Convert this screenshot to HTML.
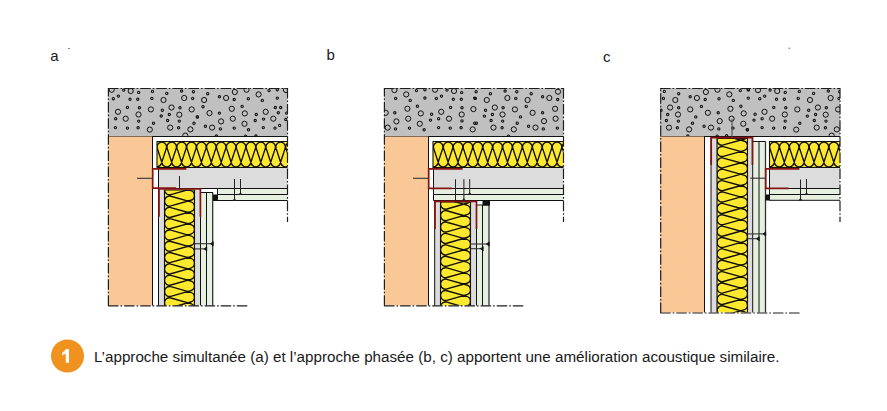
<!DOCTYPE html>
<html><head><meta charset="utf-8"><style>
html,body{margin:0;padding:0;background:#fff;width:887px;height:411px;overflow:hidden}
.lbl{position:absolute;font-family:"Liberation Sans",sans-serif;font-size:15px;color:#1a1a1a;line-height:1}
.cap{position:absolute;left:94px;top:348.8px;font-family:"Liberation Sans",sans-serif;font-size:15.2px;color:#1a1a1a;white-space:nowrap;line-height:1}

svg{position:absolute;left:0;top:0}
</style></head><body>
<svg width="887" height="411" viewBox="0 0 887 411" shape-rendering="auto">
<clipPath id="c1"><rect x="108" y="88" width="179.5" height="48.5"/></clipPath>
<rect x="108.00" y="88.00" width="179.50" height="48.50" fill="#c0c0c0"/>
<g clip-path="url(#c1)" fill="none" stroke="#111">
<circle cx="111.7" cy="89.7" r="2.6" stroke-width="1.0"/>
<circle cx="130.7" cy="91" r="2.6" stroke-width="1.0"/>
<circle cx="163.5" cy="100" r="2.6" stroke-width="1.0"/>
<circle cx="184.2" cy="98" r="2.6" stroke-width="1.0"/>
<circle cx="118" cy="111.8" r="2.6" stroke-width="1.0"/>
<circle cx="150.9" cy="109.4" r="2.6" stroke-width="1.0"/>
<circle cx="171.5" cy="107.5" r="2.6" stroke-width="1.0"/>
<circle cx="191.7" cy="109.4" r="2.6" stroke-width="1.0"/>
<circle cx="125.7" cy="118.7" r="2.6" stroke-width="1.0"/>
<circle cx="138.5" cy="114.5" r="2.6" stroke-width="1.0"/>
<circle cx="179.3" cy="114.7" r="2.6" stroke-width="1.0"/>
<circle cx="149.8" cy="129.6" r="2.6" stroke-width="1.0"/>
<circle cx="170.2" cy="127.6" r="2.6" stroke-width="1.0"/>
<circle cx="190.4" cy="129.4" r="2.6" stroke-width="1.0"/>
<circle cx="185.3" cy="135.6" r="2.6" stroke-width="1.0"/>
<circle cx="234.8" cy="92" r="2.6" stroke-width="1.0"/>
<circle cx="246.5" cy="89.7" r="2.6" stroke-width="1.0"/>
<circle cx="258.6" cy="94.4" r="2.6" stroke-width="1.0"/>
<circle cx="204.1" cy="100" r="2.6" stroke-width="1.0"/>
<circle cx="226.1" cy="98" r="2.6" stroke-width="1.0"/>
<circle cx="231.8" cy="108.8" r="2.6" stroke-width="1.0"/>
<circle cx="209.5" cy="113.1" r="2.6" stroke-width="1.0"/>
<circle cx="244.8" cy="113.4" r="2.6" stroke-width="1.0"/>
<circle cx="265.7" cy="111.8" r="2.6" stroke-width="1.0"/>
<circle cx="221.1" cy="121.4" r="2.6" stroke-width="1.0"/>
<circle cx="232.8" cy="118.7" r="2.6" stroke-width="1.0"/>
<circle cx="273.3" cy="118.7" r="2.6" stroke-width="1.0"/>
<circle cx="244.5" cy="123.8" r="2.6" stroke-width="1.0"/>
<circle cx="212.1" cy="127.6" r="2.6" stroke-width="1.0"/>
<circle cx="286" cy="90" r="2.6" stroke-width="1.0"/>
<circle cx="123.7" cy="90.1" r="1.15" stroke-width="1.1"/>
<circle cx="138.7" cy="92.4" r="1.15" stroke-width="1.1"/>
<circle cx="152.5" cy="91.4" r="1.15" stroke-width="1.1"/>
<circle cx="166.8" cy="93.4" r="1.15" stroke-width="1.1"/>
<circle cx="181.6" cy="91" r="1.15" stroke-width="1.1"/>
<circle cx="193.4" cy="91.7" r="1.15" stroke-width="1.1"/>
<circle cx="113.3" cy="98.7" r="1.15" stroke-width="1.1"/>
<circle cx="118.4" cy="96.1" r="1.15" stroke-width="1.1"/>
<circle cx="130" cy="99.3" r="1.15" stroke-width="1.1"/>
<circle cx="137.8" cy="99.3" r="1.15" stroke-width="1.1"/>
<circle cx="151.9" cy="98.4" r="1.15" stroke-width="1.1"/>
<circle cx="192.7" cy="98.4" r="1.15" stroke-width="1.1"/>
<circle cx="127.4" cy="107.4" r="1.15" stroke-width="1.1"/>
<circle cx="139.4" cy="107.8" r="1.15" stroke-width="1.1"/>
<circle cx="162.3" cy="110.2" r="1.15" stroke-width="1.1"/>
<circle cx="180" cy="107.8" r="1.15" stroke-width="1.1"/>
<circle cx="115.7" cy="118.7" r="1.15" stroke-width="1.1"/>
<circle cx="161.2" cy="116" r="1.15" stroke-width="1.1"/>
<circle cx="169.3" cy="114.5" r="1.15" stroke-width="1.1"/>
<circle cx="197.4" cy="116.9" r="1.15" stroke-width="1.1"/>
<circle cx="138.7" cy="121.1" r="1.15" stroke-width="1.1"/>
<circle cx="153.5" cy="123.2" r="1.15" stroke-width="1.1"/>
<circle cx="167.6" cy="120.5" r="1.15" stroke-width="1.1"/>
<circle cx="179.3" cy="121.1" r="1.15" stroke-width="1.1"/>
<circle cx="194" cy="123.2" r="1.15" stroke-width="1.1"/>
<circle cx="115.4" cy="127.6" r="1.15" stroke-width="1.1"/>
<circle cx="127.4" cy="128.1" r="1.15" stroke-width="1.1"/>
<circle cx="138.1" cy="127.8" r="1.15" stroke-width="1.1"/>
<circle cx="178.6" cy="127.8" r="1.15" stroke-width="1.1"/>
<circle cx="207.7" cy="93.7" r="1.15" stroke-width="1.1"/>
<circle cx="219.4" cy="96.8" r="1.15" stroke-width="1.1"/>
<circle cx="234.2" cy="99.5" r="1.15" stroke-width="1.1"/>
<circle cx="248.3" cy="98.7" r="1.15" stroke-width="1.1"/>
<circle cx="262.3" cy="100.4" r="1.15" stroke-width="1.1"/>
<circle cx="277.3" cy="98.1" r="1.15" stroke-width="1.1"/>
<circle cx="269" cy="90.6" r="1.15" stroke-width="1.1"/>
<circle cx="277.3" cy="89.7" r="1.15" stroke-width="1.1"/>
<circle cx="203" cy="106.7" r="1.15" stroke-width="1.1"/>
<circle cx="242.1" cy="106.4" r="1.15" stroke-width="1.1"/>
<circle cx="275.3" cy="107.5" r="1.15" stroke-width="1.1"/>
<circle cx="280.7" cy="107.5" r="1.15" stroke-width="1.1"/>
<circle cx="219.4" cy="113.1" r="1.15" stroke-width="1.1"/>
<circle cx="256.3" cy="114.5" r="1.15" stroke-width="1.1"/>
<circle cx="278.3" cy="112.8" r="1.15" stroke-width="1.1"/>
<circle cx="197.4" cy="116.9" r="1.15" stroke-width="1.1"/>
<circle cx="255.2" cy="120.5" r="1.15" stroke-width="1.1"/>
<circle cx="263.5" cy="119.1" r="1.15" stroke-width="1.1"/>
<circle cx="285.8" cy="119.5" r="1.15" stroke-width="1.1"/>
<circle cx="205.4" cy="126.2" r="1.15" stroke-width="1.1"/>
<circle cx="220.4" cy="128.9" r="1.15" stroke-width="1.1"/>
<circle cx="234.2" cy="128.1" r="1.15" stroke-width="1.1"/>
<circle cx="248.5" cy="129.8" r="1.15" stroke-width="1.1"/>
<circle cx="263.3" cy="127.6" r="1.15" stroke-width="1.1"/>
<circle cx="275" cy="128.1" r="1.15" stroke-width="1.1"/>
<circle cx="279.6" cy="125.4" r="1.15" stroke-width="1.1"/>
<circle cx="286.7" cy="113.1" r="1.15" stroke-width="1.1"/>
<circle cx="216.4" cy="136" r="1.15" stroke-width="1.1"/>
<circle cx="245.6" cy="136.2" r="1.15" stroke-width="1.1"/>
<circle cx="255.9" cy="136" r="1.15" stroke-width="1.1"/>
</g>
<line x1="108.00" y1="136.50" x2="287.50" y2="136.50" stroke="#111" stroke-width="1" />
<rect x="108.00" y="136.50" width="44.50" height="169.00" fill="#fac896"/>
<line x1="152.50" y1="136.50" x2="152.50" y2="305.50" stroke="#111" stroke-width="1" />
<clipPath id="c2"><rect x="157.0" y="141.5" width="130.5" height="26.0"/></clipPath>
<rect x="157.00" y="141.50" width="130.50" height="26.00" fill="#ffe92e"/>
<g clip-path="url(#c2)">
<path d="M137.48,148.37A4.75,4.75 0 1 1 146.52,148.37M137.48,148.37L142.43,163.57M146.52,148.37L141.57,163.57M142.43,163.57A4.75,4.75 0 0 0 151.47,163.57M147.38,148.37A4.75,4.75 0 1 1 156.42,148.37M147.38,148.37L152.33,163.57M156.42,148.37L151.47,163.57M152.33,163.57A4.75,4.75 0 0 0 161.37,163.57M157.28,148.37A4.75,4.75 0 1 1 166.32,148.37M157.28,148.37L162.23,163.57M166.32,148.37L161.37,163.57M162.23,163.57A4.75,4.75 0 0 0 171.27,163.57M167.18,148.37A4.75,4.75 0 1 1 176.22,148.37M167.18,148.37L172.13,163.57M176.22,148.37L171.27,163.57M172.13,163.57A4.75,4.75 0 0 0 181.17,163.57M177.08,148.37A4.75,4.75 0 1 1 186.12,148.37M177.08,148.37L182.03,163.57M186.12,148.37L181.17,163.57M182.03,163.57A4.75,4.75 0 0 0 191.07,163.57M186.98,148.37A4.75,4.75 0 1 1 196.02,148.37M186.98,148.37L191.93,163.57M196.02,148.37L191.07,163.57M191.93,163.57A4.75,4.75 0 0 0 200.97,163.57M196.88,148.37A4.75,4.75 0 1 1 205.92,148.37M196.88,148.37L201.83,163.57M205.92,148.37L200.97,163.57M201.83,163.57A4.75,4.75 0 0 0 210.87,163.57M206.78,148.37A4.75,4.75 0 1 1 215.82,148.37M206.78,148.37L211.73,163.57M215.82,148.37L210.87,163.57M211.73,163.57A4.75,4.75 0 0 0 220.77,163.57M216.68,148.37A4.75,4.75 0 1 1 225.72,148.37M216.68,148.37L221.63,163.57M225.72,148.37L220.77,163.57M221.63,163.57A4.75,4.75 0 0 0 230.67,163.57M226.58,148.37A4.75,4.75 0 1 1 235.62,148.37M226.58,148.37L231.53,163.57M235.62,148.37L230.67,163.57M231.53,163.57A4.75,4.75 0 0 0 240.57,163.57M236.48,148.37A4.75,4.75 0 1 1 245.52,148.37M236.48,148.37L241.43,163.57M245.52,148.37L240.57,163.57M241.43,163.57A4.75,4.75 0 0 0 250.47,163.57M246.38,148.37A4.75,4.75 0 1 1 255.42,148.37M246.38,148.37L251.33,163.57M255.42,148.37L250.47,163.57M251.33,163.57A4.75,4.75 0 0 0 260.37,163.57M256.28,148.37A4.75,4.75 0 1 1 265.32,148.37M256.28,148.37L261.23,163.57M265.32,148.37L260.37,163.57M261.23,163.57A4.75,4.75 0 0 0 270.27,163.57M266.18,148.37A4.75,4.75 0 1 1 275.22,148.37M266.18,148.37L271.13,163.57M275.22,148.37L270.27,163.57M271.13,163.57A4.75,4.75 0 0 0 280.17,163.57M276.08,148.37A4.75,4.75 0 1 1 285.12,148.37M276.08,148.37L281.03,163.57M285.12,148.37L280.17,163.57M281.03,163.57A4.75,4.75 0 0 0 290.07,163.57M285.98,148.37A4.75,4.75 0 1 1 295.02,148.37M285.98,148.37L290.93,163.57M295.02,148.37L290.07,163.57M290.93,163.57A4.75,4.75 0 0 0 299.97,163.57" stroke="#111" stroke-width="1.4" fill="none" />
</g>
<path d="M287.5,141.5H157.0V167.5H287.5" stroke="#111" stroke-width="1.1" fill="none" />
<rect x="158.50" y="168.00" width="129.00" height="20.50" fill="#dcdcdc"/>
<line x1="158.50" y1="168.00" x2="158.50" y2="188.50" stroke="#111" stroke-width="1" />
<rect x="217.50" y="188.50" width="70.00" height="12.00" fill="#e6f0e1"/>
<line x1="158.50" y1="188.50" x2="287.50" y2="188.50" stroke="#111" stroke-width="1" />
<line x1="217.50" y1="194.50" x2="287.50" y2="194.50" stroke="#111" stroke-width="1" />
<line x1="213.00" y1="200.50" x2="287.50" y2="200.50" stroke="#111" stroke-width="1" />
<line x1="217.50" y1="188.50" x2="217.50" y2="200.50" stroke="#111" stroke-width="1" />
<rect x="213.00" y="194.50" width="4.50" height="6.50" fill="#111"/>
<rect x="158.50" y="189.50" width="6.00" height="116.00" fill="#dcdcdc"/>
<rect x="194.50" y="189.50" width="6.00" height="116.00" fill="#dcdcdc"/>
<line x1="158.50" y1="188.50" x2="158.50" y2="305.50" stroke="#111" stroke-width="1" />
<clipPath id="c3"><rect x="164.5" y="190.0" width="30.0" height="115.5"/></clipPath>
<rect x="164.50" y="190.00" width="30.00" height="115.50" fill="#ffe92e"/>
<g clip-path="url(#c3)">
<path d="M170.86,162.39A5.0,5.0 0 1 0 170.86,172.01M170.86,162.39L190.86,168.04M170.86,172.01L190.86,166.36M190.86,168.04A5.0,5.0 0 0 1 190.86,177.66M170.86,173.69A5.0,5.0 0 1 0 170.86,183.31M170.86,173.69L190.86,179.34M170.86,183.31L190.86,177.66M190.86,179.34A5.0,5.0 0 0 1 190.86,188.96M170.86,184.99A5.0,5.0 0 1 0 170.86,194.61M170.86,184.99L190.86,190.64M170.86,194.61L190.86,188.96M190.86,190.64A5.0,5.0 0 0 1 190.86,200.26M170.86,196.29A5.0,5.0 0 1 0 170.86,205.91M170.86,196.29L190.86,201.94M170.86,205.91L190.86,200.26M190.86,201.94A5.0,5.0 0 0 1 190.86,211.56M170.86,207.59A5.0,5.0 0 1 0 170.86,217.21M170.86,207.59L190.86,213.24M170.86,217.21L190.86,211.56M190.86,213.24A5.0,5.0 0 0 1 190.86,222.86M170.86,218.89A5.0,5.0 0 1 0 170.86,228.51M170.86,218.89L190.86,224.54M170.86,228.51L190.86,222.86M190.86,224.54A5.0,5.0 0 0 1 190.86,234.16M170.86,230.19A5.0,5.0 0 1 0 170.86,239.81M170.86,230.19L190.86,235.84M170.86,239.81L190.86,234.16M190.86,235.84A5.0,5.0 0 0 1 190.86,245.46M170.86,241.49A5.0,5.0 0 1 0 170.86,251.11M170.86,241.49L190.86,247.14M170.86,251.11L190.86,245.46M190.86,247.14A5.0,5.0 0 0 1 190.86,256.76M170.86,252.79A5.0,5.0 0 1 0 170.86,262.41M170.86,252.79L190.86,258.44M170.86,262.41L190.86,256.76M190.86,258.44A5.0,5.0 0 0 1 190.86,268.06M170.86,264.09A5.0,5.0 0 1 0 170.86,273.71M170.86,264.09L190.86,269.74M170.86,273.71L190.86,268.06M190.86,269.74A5.0,5.0 0 0 1 190.86,279.36M170.86,275.39A5.0,5.0 0 1 0 170.86,285.01M170.86,275.39L190.86,281.04M170.86,285.01L190.86,279.36M190.86,281.04A5.0,5.0 0 0 1 190.86,290.66M170.86,286.69A5.0,5.0 0 1 0 170.86,296.31M170.86,286.69L190.86,292.34M170.86,296.31L190.86,290.66M190.86,292.34A5.0,5.0 0 0 1 190.86,301.96M170.86,297.99A5.0,5.0 0 1 0 170.86,307.61M170.86,297.99L190.86,303.64M170.86,307.61L190.86,301.96M190.86,303.64A5.0,5.0 0 0 1 190.86,313.26M170.86,309.29A5.0,5.0 0 1 0 170.86,318.91M170.86,309.29L190.86,314.94M170.86,318.91L190.86,313.26M190.86,314.94A5.0,5.0 0 0 1 190.86,324.56" stroke="#111" stroke-width="1.4" fill="none" />
</g>
<path d="M164.5,305.5V190.0H194.5V305.5" stroke="#111" stroke-width="1.1" fill="none" />
<rect x="200.50" y="192.50" width="12.20" height="113.00" fill="#e6f0e1"/>
<line x1="200.50" y1="189.00" x2="200.50" y2="305.50" stroke="#111" stroke-width="1" />
<line x1="206.50" y1="192.50" x2="206.50" y2="305.50" stroke="#111" stroke-width="1" />
<line x1="212.70" y1="192.50" x2="212.70" y2="305.50" stroke="#333" stroke-width="1.3" />
<line x1="200.50" y1="192.50" x2="213.00" y2="192.50" stroke="#111" stroke-width="1" />
<path d="M186.4,168.8H152.7V188.2H176" stroke="#861313" stroke-width="1.7" fill="none" />
<path d="M159,216.8V189H200.4V216.8" stroke="#861313" stroke-width="1.7" fill="none" />
<line x1="137.00" y1="178.30" x2="152.50" y2="178.30" stroke="#333" stroke-width="1.1" />
<line x1="179.50" y1="176.00" x2="179.50" y2="188.50" stroke="#222" stroke-width="1" />
<line x1="234.50" y1="179.00" x2="234.50" y2="200.50" stroke="#222" stroke-width="1" />
<path d="M232.90,200.50L236.10,200.50L234.50,198.50Z" stroke="#222" stroke-width="0.5" fill="#222" />
<line x1="240.50" y1="179.00" x2="240.50" y2="194.50" stroke="#222" stroke-width="1" />
<path d="M238.90,194.50L242.10,194.50L240.50,192.50Z" stroke="#222" stroke-width="0.5" fill="#222" />
<line x1="194.50" y1="243.70" x2="213.00" y2="243.70" stroke="#333" stroke-width="1.1" />
<path d="M213.30,241.50L213.30,245.90L210.40,243.70Z" stroke="#111" stroke-width="0.6" fill="#111" />
<line x1="194.50" y1="248.90" x2="206.50" y2="248.90" stroke="#333" stroke-width="1.1" />
<path d="M206.80,246.70L206.80,251.10L203.90,248.90Z" stroke="#111" stroke-width="0.6" fill="#111" />
<line x1="108.00" y1="88.50" x2="287.50" y2="88.50" stroke="#1e1e1e" stroke-width="1.2" stroke-dasharray="10.5 2 1.6 2"/>
<line x1="108.40" y1="305.80" x2="108.40" y2="88.00" stroke="#1e1e1e" stroke-width="1.2" stroke-dasharray="10.5 2 1.6 2"/>
<line x1="287.50" y1="88.00" x2="287.50" y2="222.00" stroke="#1e1e1e" stroke-width="1.2" stroke-dasharray="10.5 2 1.6 2"/>
<line x1="108.00" y1="305.80" x2="248.00" y2="305.80" stroke="#1e1e1e" stroke-width="1.2" stroke-dasharray="10.5 2 1.6 2"/>
<clipPath id="c4"><rect x="384" y="88" width="179.5" height="48.5"/></clipPath>
<rect x="384.00" y="88.00" width="179.50" height="48.50" fill="#c0c0c0"/>
<g clip-path="url(#c4)" fill="none" stroke="#111">
<circle cx="394.4" cy="90.1" r="2.6" stroke-width="1.0"/>
<circle cx="406.2" cy="94.4" r="2.6" stroke-width="1.0"/>
<circle cx="435" cy="89.7" r="2.6" stroke-width="1.0"/>
<circle cx="454" cy="91" r="2.6" stroke-width="1.0"/>
<circle cx="407.4" cy="108.7" r="2.6" stroke-width="1.0"/>
<circle cx="420.8" cy="113.4" r="2.6" stroke-width="1.0"/>
<circle cx="441.2" cy="111.8" r="2.6" stroke-width="1.0"/>
<circle cx="461.7" cy="114.5" r="2.6" stroke-width="1.0"/>
<circle cx="473.4" cy="109.1" r="2.6" stroke-width="1.0"/>
<circle cx="385.7" cy="112.8" r="2.6" stroke-width="1.0"/>
<circle cx="396.4" cy="121.4" r="2.6" stroke-width="1.0"/>
<circle cx="408.2" cy="118.7" r="2.6" stroke-width="1.0"/>
<circle cx="449" cy="118.7" r="2.6" stroke-width="1.0"/>
<circle cx="419.8" cy="123.8" r="2.6" stroke-width="1.0"/>
<circle cx="387.7" cy="127.6" r="2.6" stroke-width="1.0"/>
<circle cx="472.7" cy="129.4" r="2.6" stroke-width="1.0"/>
<circle cx="558" cy="91.7" r="2.6" stroke-width="1.0"/>
<circle cx="486.8" cy="100" r="2.6" stroke-width="1.0"/>
<circle cx="507.4" cy="98" r="2.6" stroke-width="1.0"/>
<circle cx="527.6" cy="100" r="2.6" stroke-width="1.0"/>
<circle cx="549.3" cy="98" r="2.6" stroke-width="1.0"/>
<circle cx="494.8" cy="107.5" r="2.6" stroke-width="1.0"/>
<circle cx="514.9" cy="109.4" r="2.6" stroke-width="1.0"/>
<circle cx="555.1" cy="108.8" r="2.6" stroke-width="1.0"/>
<circle cx="502.5" cy="114.5" r="2.6" stroke-width="1.0"/>
<circle cx="532.6" cy="112.8" r="2.6" stroke-width="1.0"/>
<circle cx="544" cy="121.1" r="2.6" stroke-width="1.0"/>
<circle cx="555.6" cy="118.7" r="2.6" stroke-width="1.0"/>
<circle cx="493.5" cy="127.6" r="2.6" stroke-width="1.0"/>
<circle cx="513.8" cy="129.4" r="2.6" stroke-width="1.0"/>
<circle cx="535.5" cy="127.6" r="2.6" stroke-width="1.0"/>
<circle cx="416.5" cy="90.6" r="1.15" stroke-width="1.1"/>
<circle cx="424.9" cy="89.7" r="1.15" stroke-width="1.1"/>
<circle cx="447" cy="90.1" r="1.15" stroke-width="1.1"/>
<circle cx="461.7" cy="92.6" r="1.15" stroke-width="1.1"/>
<circle cx="395.7" cy="98.4" r="1.15" stroke-width="1.1"/>
<circle cx="410.2" cy="100.4" r="1.15" stroke-width="1.1"/>
<circle cx="424.9" cy="98" r="1.15" stroke-width="1.1"/>
<circle cx="436.3" cy="98.4" r="1.15" stroke-width="1.1"/>
<circle cx="441.5" cy="96.1" r="1.15" stroke-width="1.1"/>
<circle cx="453.3" cy="99.3" r="1.15" stroke-width="1.1"/>
<circle cx="461.3" cy="99.3" r="1.15" stroke-width="1.1"/>
<circle cx="474.7" cy="98.1" r="1.15" stroke-width="1.1"/>
<circle cx="417.4" cy="106.2" r="1.15" stroke-width="1.1"/>
<circle cx="450.6" cy="107.4" r="1.15" stroke-width="1.1"/>
<circle cx="462" cy="107.8" r="1.15" stroke-width="1.1"/>
<circle cx="394.8" cy="112.8" r="1.15" stroke-width="1.1"/>
<circle cx="431.6" cy="114.2" r="1.15" stroke-width="1.1"/>
<circle cx="430.5" cy="120.1" r="1.15" stroke-width="1.1"/>
<circle cx="438.6" cy="118.7" r="1.15" stroke-width="1.1"/>
<circle cx="462" cy="120.9" r="1.15" stroke-width="1.1"/>
<circle cx="395.5" cy="128.9" r="1.15" stroke-width="1.1"/>
<circle cx="409.5" cy="128.1" r="1.15" stroke-width="1.1"/>
<circle cx="424.1" cy="129.8" r="1.15" stroke-width="1.1"/>
<circle cx="438.6" cy="127.6" r="1.15" stroke-width="1.1"/>
<circle cx="450.2" cy="128.1" r="1.15" stroke-width="1.1"/>
<circle cx="461.1" cy="127.8" r="1.15" stroke-width="1.1"/>
<circle cx="474.7" cy="123.2" r="1.15" stroke-width="1.1"/>
<circle cx="476.1" cy="91.7" r="1.15" stroke-width="1.1"/>
<circle cx="490.4" cy="93.7" r="1.15" stroke-width="1.1"/>
<circle cx="505.1" cy="91" r="1.15" stroke-width="1.1"/>
<circle cx="516.8" cy="91.7" r="1.15" stroke-width="1.1"/>
<circle cx="531.2" cy="93.7" r="1.15" stroke-width="1.1"/>
<circle cx="475.3" cy="98.4" r="1.15" stroke-width="1.1"/>
<circle cx="515.8" cy="98.4" r="1.15" stroke-width="1.1"/>
<circle cx="542.6" cy="96.8" r="1.15" stroke-width="1.1"/>
<circle cx="557.7" cy="99.5" r="1.15" stroke-width="1.1"/>
<circle cx="485.5" cy="110.2" r="1.15" stroke-width="1.1"/>
<circle cx="503.1" cy="107.8" r="1.15" stroke-width="1.1"/>
<circle cx="526.2" cy="106.4" r="1.15" stroke-width="1.1"/>
<circle cx="484.4" cy="116.1" r="1.15" stroke-width="1.1"/>
<circle cx="492.4" cy="114.5" r="1.15" stroke-width="1.1"/>
<circle cx="520.5" cy="116.9" r="1.15" stroke-width="1.1"/>
<circle cx="542.6" cy="112.8" r="1.15" stroke-width="1.1"/>
<circle cx="491.1" cy="120.5" r="1.15" stroke-width="1.1"/>
<circle cx="502.7" cy="121.1" r="1.15" stroke-width="1.1"/>
<circle cx="476.4" cy="123.2" r="1.15" stroke-width="1.1"/>
<circle cx="517.2" cy="123.2" r="1.15" stroke-width="1.1"/>
<circle cx="502.1" cy="127.8" r="1.15" stroke-width="1.1"/>
<circle cx="528.6" cy="126.2" r="1.15" stroke-width="1.1"/>
<circle cx="543.3" cy="128.9" r="1.15" stroke-width="1.1"/>
<circle cx="557.3" cy="128.1" r="1.15" stroke-width="1.1"/>
<circle cx="508.5" cy="136.2" r="1.15" stroke-width="1.1"/>
</g>
<line x1="384.00" y1="136.50" x2="563.50" y2="136.50" stroke="#111" stroke-width="1" />
<rect x="384.00" y="136.50" width="44.50" height="169.00" fill="#fac896"/>
<line x1="428.50" y1="136.50" x2="428.50" y2="305.50" stroke="#111" stroke-width="1" />
<clipPath id="c5"><rect x="433.0" y="141.5" width="130.5" height="26.0"/></clipPath>
<rect x="433.00" y="141.50" width="130.50" height="26.00" fill="#ffe92e"/>
<g clip-path="url(#c5)">
<path d="M413.88,148.37A4.75,4.75 0 1 1 422.92,148.37M413.88,148.37L418.83,163.57M422.92,148.37L417.97,163.57M418.83,163.57A4.75,4.75 0 0 0 427.87,163.57M423.78,148.37A4.75,4.75 0 1 1 432.82,148.37M423.78,148.37L428.73,163.57M432.82,148.37L427.87,163.57M428.73,163.57A4.75,4.75 0 0 0 437.77,163.57M433.68,148.37A4.75,4.75 0 1 1 442.72,148.37M433.68,148.37L438.63,163.57M442.72,148.37L437.77,163.57M438.63,163.57A4.75,4.75 0 0 0 447.67,163.57M443.58,148.37A4.75,4.75 0 1 1 452.62,148.37M443.58,148.37L448.53,163.57M452.62,148.37L447.67,163.57M448.53,163.57A4.75,4.75 0 0 0 457.57,163.57M453.48,148.37A4.75,4.75 0 1 1 462.52,148.37M453.48,148.37L458.43,163.57M462.52,148.37L457.57,163.57M458.43,163.57A4.75,4.75 0 0 0 467.47,163.57M463.38,148.37A4.75,4.75 0 1 1 472.42,148.37M463.38,148.37L468.33,163.57M472.42,148.37L467.47,163.57M468.33,163.57A4.75,4.75 0 0 0 477.37,163.57M473.28,148.37A4.75,4.75 0 1 1 482.32,148.37M473.28,148.37L478.23,163.57M482.32,148.37L477.37,163.57M478.23,163.57A4.75,4.75 0 0 0 487.27,163.57M483.18,148.37A4.75,4.75 0 1 1 492.22,148.37M483.18,148.37L488.13,163.57M492.22,148.37L487.27,163.57M488.13,163.57A4.75,4.75 0 0 0 497.17,163.57M493.08,148.37A4.75,4.75 0 1 1 502.12,148.37M493.08,148.37L498.03,163.57M502.12,148.37L497.17,163.57M498.03,163.57A4.75,4.75 0 0 0 507.07,163.57M502.98,148.37A4.75,4.75 0 1 1 512.02,148.37M502.98,148.37L507.93,163.57M512.02,148.37L507.07,163.57M507.93,163.57A4.75,4.75 0 0 0 516.97,163.57M512.88,148.37A4.75,4.75 0 1 1 521.92,148.37M512.88,148.37L517.83,163.57M521.92,148.37L516.97,163.57M517.83,163.57A4.75,4.75 0 0 0 526.87,163.57M522.78,148.37A4.75,4.75 0 1 1 531.82,148.37M522.78,148.37L527.73,163.57M531.82,148.37L526.87,163.57M527.73,163.57A4.75,4.75 0 0 0 536.77,163.57M532.68,148.37A4.75,4.75 0 1 1 541.72,148.37M532.68,148.37L537.63,163.57M541.72,148.37L536.77,163.57M537.63,163.57A4.75,4.75 0 0 0 546.67,163.57M542.58,148.37A4.75,4.75 0 1 1 551.62,148.37M542.58,148.37L547.53,163.57M551.62,148.37L546.67,163.57M547.53,163.57A4.75,4.75 0 0 0 556.57,163.57M552.48,148.37A4.75,4.75 0 1 1 561.52,148.37M552.48,148.37L557.43,163.57M561.52,148.37L556.57,163.57M557.43,163.57A4.75,4.75 0 0 0 566.47,163.57M562.38,148.37A4.75,4.75 0 1 1 571.42,148.37M562.38,148.37L567.33,163.57M571.42,148.37L566.47,163.57M567.33,163.57A4.75,4.75 0 0 0 576.37,163.57" stroke="#111" stroke-width="1.4" fill="none" />
</g>
<path d="M563.5,141.5H433.0V167.5H563.5" stroke="#111" stroke-width="1.1" fill="none" />
<rect x="433.50" y="168.00" width="130.00" height="20.50" fill="#dcdcdc"/>
<rect x="433.50" y="188.50" width="130.00" height="12.00" fill="#e6f0e1"/>
<line x1="433.50" y1="168.00" x2="433.50" y2="200.50" stroke="#111" stroke-width="1" />
<line x1="433.50" y1="188.50" x2="563.50" y2="188.50" stroke="#111" stroke-width="1" />
<line x1="433.50" y1="194.50" x2="563.50" y2="194.50" stroke="#111" stroke-width="1" />
<line x1="433.50" y1="200.50" x2="563.50" y2="200.50" stroke="#111" stroke-width="1" />
<rect x="434.50" y="201.50" width="6.00" height="104.00" fill="#dcdcdc"/>
<rect x="470.50" y="201.50" width="6.00" height="104.00" fill="#dcdcdc"/>
<line x1="434.70" y1="200.50" x2="434.70" y2="305.50" stroke="#111" stroke-width="1" />
<clipPath id="c6"><rect x="440.5" y="202.0" width="30.0" height="103.5"/></clipPath>
<rect x="440.50" y="202.00" width="30.00" height="103.50" fill="#ffe92e"/>
<g clip-path="url(#c6)">
<path d="M446.87,176.53A5.0,5.0 0 1 0 446.87,186.15M446.87,176.53L466.87,182.24M446.87,186.15L466.87,180.44M466.87,182.24A5.0,5.0 0 0 1 466.87,191.86M446.87,187.95A5.0,5.0 0 1 0 446.87,197.57M446.87,187.95L466.87,193.66M446.87,197.57L466.87,191.86M466.87,193.66A5.0,5.0 0 0 1 466.87,203.28M446.87,199.37A5.0,5.0 0 1 0 446.87,208.99M446.87,199.37L466.87,205.08M446.87,208.99L466.87,203.28M466.87,205.08A5.0,5.0 0 0 1 466.87,214.70M446.87,210.79A5.0,5.0 0 1 0 446.87,220.41M446.87,210.79L466.87,216.50M446.87,220.41L466.87,214.70M466.87,216.50A5.0,5.0 0 0 1 466.87,226.12M446.87,222.21A5.0,5.0 0 1 0 446.87,231.83M446.87,222.21L466.87,227.92M446.87,231.83L466.87,226.12M466.87,227.92A5.0,5.0 0 0 1 466.87,237.54M446.87,233.63A5.0,5.0 0 1 0 446.87,243.25M446.87,233.63L466.87,239.34M446.87,243.25L466.87,237.54M466.87,239.34A5.0,5.0 0 0 1 466.87,248.96M446.87,245.05A5.0,5.0 0 1 0 446.87,254.67M446.87,245.05L466.87,250.76M446.87,254.67L466.87,248.96M466.87,250.76A5.0,5.0 0 0 1 466.87,260.38M446.87,256.47A5.0,5.0 0 1 0 446.87,266.09M446.87,256.47L466.87,262.18M446.87,266.09L466.87,260.38M466.87,262.18A5.0,5.0 0 0 1 466.87,271.80M446.87,267.89A5.0,5.0 0 1 0 446.87,277.51M446.87,267.89L466.87,273.60M446.87,277.51L466.87,271.80M466.87,273.60A5.0,5.0 0 0 1 466.87,283.22M446.87,279.31A5.0,5.0 0 1 0 446.87,288.93M446.87,279.31L466.87,285.02M446.87,288.93L466.87,283.22M466.87,285.02A5.0,5.0 0 0 1 466.87,294.64M446.87,290.73A5.0,5.0 0 1 0 446.87,300.35M446.87,290.73L466.87,296.44M446.87,300.35L466.87,294.64M466.87,296.44A5.0,5.0 0 0 1 466.87,306.06M446.87,302.15A5.0,5.0 0 1 0 446.87,311.77M446.87,302.15L466.87,307.86M446.87,311.77L466.87,306.06M466.87,307.86A5.0,5.0 0 0 1 466.87,317.48" stroke="#111" stroke-width="1.4" fill="none" />
</g>
<path d="M440.5,305.5V202.0H470.5V305.5" stroke="#111" stroke-width="1.1" fill="none" />
<rect x="476.50" y="205.00" width="12.50" height="100.50" fill="#e6f0e1"/>
<line x1="476.50" y1="201.00" x2="476.50" y2="305.50" stroke="#111" stroke-width="1" />
<line x1="482.50" y1="205.00" x2="482.50" y2="305.50" stroke="#111" stroke-width="1" />
<line x1="489.00" y1="201.00" x2="489.00" y2="305.50" stroke="#333" stroke-width="1.3" />
<line x1="476.50" y1="205.00" x2="489.50" y2="205.00" stroke="#111" stroke-width="1" />
<rect x="482.50" y="201.00" width="7.50" height="4.50" fill="#111"/>
<path d="M462.6,168.8H428.7V188.3H451.7" stroke="#861313" stroke-width="1.7" fill="none" />
<path d="M435,228.9V201.4H476.5V228.9" stroke="#861313" stroke-width="1.7" fill="none" />
<line x1="413.00" y1="178.30" x2="428.50" y2="178.30" stroke="#333" stroke-width="1.1" />
<line x1="455.50" y1="179.20" x2="455.50" y2="201.40" stroke="#222" stroke-width="1" />
<line x1="463.90" y1="179.20" x2="463.90" y2="200.50" stroke="#222" stroke-width="1" />
<path d="M462.30,200.50L465.50,200.50L463.90,198.50Z" stroke="#222" stroke-width="0.5" fill="#222" />
<line x1="469.70" y1="179.20" x2="469.70" y2="194.50" stroke="#222" stroke-width="1" />
<path d="M468.10,194.50L471.30,194.50L469.70,192.50Z" stroke="#222" stroke-width="0.5" fill="#222" />
<line x1="470.50" y1="244.00" x2="489.00" y2="244.00" stroke="#333" stroke-width="1.1" />
<path d="M489.30,241.80L489.30,246.20L486.40,244.00Z" stroke="#111" stroke-width="0.6" fill="#111" />
<line x1="470.50" y1="248.70" x2="483.00" y2="248.70" stroke="#333" stroke-width="1.1" />
<path d="M483.30,246.50L483.30,250.90L480.40,248.70Z" stroke="#111" stroke-width="0.6" fill="#111" />
<line x1="384.00" y1="88.50" x2="563.50" y2="88.50" stroke="#1e1e1e" stroke-width="1.2" stroke-dasharray="10.5 2 1.6 2"/>
<line x1="384.40" y1="305.80" x2="384.40" y2="88.00" stroke="#1e1e1e" stroke-width="1.2" stroke-dasharray="10.5 2 1.6 2"/>
<line x1="563.50" y1="88.00" x2="563.50" y2="222.00" stroke="#1e1e1e" stroke-width="1.2" stroke-dasharray="10.5 2 1.6 2"/>
<line x1="384.00" y1="305.80" x2="524.60" y2="305.80" stroke="#1e1e1e" stroke-width="1.2" stroke-dasharray="10.5 2 1.6 2"/>
<clipPath id="c7"><rect x="660" y="88" width="180" height="48.5"/></clipPath>
<rect x="660.00" y="88.00" width="180.00" height="48.50" fill="#c0c0c0"/>
<g clip-path="url(#c7)" fill="none" stroke="#111">
<circle cx="705.9" cy="92" r="2.6" stroke-width="1.0"/>
<circle cx="717.5" cy="89.7" r="2.6" stroke-width="1.0"/>
<circle cx="729.3" cy="94.4" r="2.6" stroke-width="1.0"/>
<circle cx="675.3" cy="100" r="2.6" stroke-width="1.0"/>
<circle cx="696.9" cy="98" r="2.6" stroke-width="1.0"/>
<circle cx="670.1" cy="107.5" r="2.6" stroke-width="1.0"/>
<circle cx="690.2" cy="109.4" r="2.6" stroke-width="1.0"/>
<circle cx="707.9" cy="112.8" r="2.6" stroke-width="1.0"/>
<circle cx="730.4" cy="108.8" r="2.6" stroke-width="1.0"/>
<circle cx="743.7" cy="113.4" r="2.6" stroke-width="1.0"/>
<circle cx="678" cy="114.5" r="2.6" stroke-width="1.0"/>
<circle cx="719.7" cy="121.1" r="2.6" stroke-width="1.0"/>
<circle cx="731.6" cy="118.7" r="2.6" stroke-width="1.0"/>
<circle cx="743.3" cy="123.8" r="2.6" stroke-width="1.0"/>
<circle cx="669" cy="127.6" r="2.6" stroke-width="1.0"/>
<circle cx="689.1" cy="129.4" r="2.6" stroke-width="1.0"/>
<circle cx="711" cy="127.6" r="2.6" stroke-width="1.0"/>
<circle cx="758" cy="90.1" r="2.6" stroke-width="1.0"/>
<circle cx="777.2" cy="91" r="2.6" stroke-width="1.0"/>
<circle cx="810" cy="100" r="2.6" stroke-width="1.0"/>
<circle cx="830.6" cy="98" r="2.6" stroke-width="1.0"/>
<circle cx="764.5" cy="111.8" r="2.6" stroke-width="1.0"/>
<circle cx="797.3" cy="109.4" r="2.6" stroke-width="1.0"/>
<circle cx="817.9" cy="107.5" r="2.6" stroke-width="1.0"/>
<circle cx="838.1" cy="109.4" r="2.6" stroke-width="1.0"/>
<circle cx="772.1" cy="118.7" r="2.6" stroke-width="1.0"/>
<circle cx="784.8" cy="114.5" r="2.6" stroke-width="1.0"/>
<circle cx="825.7" cy="114.7" r="2.6" stroke-width="1.0"/>
<circle cx="796.2" cy="129.6" r="2.6" stroke-width="1.0"/>
<circle cx="816.7" cy="127.6" r="2.6" stroke-width="1.0"/>
<circle cx="836.8" cy="129.4" r="2.6" stroke-width="1.0"/>
<circle cx="831.7" cy="135.6" r="2.6" stroke-width="1.0"/>
<circle cx="664.4" cy="91.4" r="1.15" stroke-width="1.1"/>
<circle cx="678.7" cy="93.7" r="1.15" stroke-width="1.1"/>
<circle cx="740.3" cy="90.6" r="1.15" stroke-width="1.1"/>
<circle cx="748.3" cy="89.7" r="1.15" stroke-width="1.1"/>
<circle cx="663.4" cy="98.4" r="1.15" stroke-width="1.1"/>
<circle cx="690.2" cy="96.8" r="1.15" stroke-width="1.1"/>
<circle cx="705.2" cy="99.5" r="1.15" stroke-width="1.1"/>
<circle cx="719" cy="98.7" r="1.15" stroke-width="1.1"/>
<circle cx="733.3" cy="100.4" r="1.15" stroke-width="1.1"/>
<circle cx="748.3" cy="98.1" r="1.15" stroke-width="1.1"/>
<circle cx="678.7" cy="107.8" r="1.15" stroke-width="1.1"/>
<circle cx="701.4" cy="106.4" r="1.15" stroke-width="1.1"/>
<circle cx="740.9" cy="106.2" r="1.15" stroke-width="1.1"/>
<circle cx="667.7" cy="114.5" r="1.15" stroke-width="1.1"/>
<circle cx="695.8" cy="116.9" r="1.15" stroke-width="1.1"/>
<circle cx="718.2" cy="112.8" r="1.15" stroke-width="1.1"/>
<circle cx="666.4" cy="120.5" r="1.15" stroke-width="1.1"/>
<circle cx="678.4" cy="121.1" r="1.15" stroke-width="1.1"/>
<circle cx="692.5" cy="123.2" r="1.15" stroke-width="1.1"/>
<circle cx="677.3" cy="127.8" r="1.15" stroke-width="1.1"/>
<circle cx="704.1" cy="126.2" r="1.15" stroke-width="1.1"/>
<circle cx="718.8" cy="128.9" r="1.15" stroke-width="1.1"/>
<circle cx="733" cy="128.1" r="1.15" stroke-width="1.1"/>
<circle cx="747.4" cy="129.8" r="1.15" stroke-width="1.1"/>
<circle cx="661" cy="110.2" r="1.15" stroke-width="1.1"/>
<circle cx="687.8" cy="136" r="1.15" stroke-width="1.1"/>
<circle cx="717.2" cy="136.2" r="1.15" stroke-width="1.1"/>
<circle cx="726.6" cy="135.8" r="1.15" stroke-width="1.1"/>
<circle cx="748.4" cy="89.7" r="1.15" stroke-width="1.1"/>
<circle cx="770.1" cy="90.1" r="1.15" stroke-width="1.1"/>
<circle cx="785.2" cy="92.4" r="1.15" stroke-width="1.1"/>
<circle cx="799.3" cy="91.4" r="1.15" stroke-width="1.1"/>
<circle cx="813.6" cy="93.4" r="1.15" stroke-width="1.1"/>
<circle cx="828.3" cy="91" r="1.15" stroke-width="1.1"/>
<circle cx="839.7" cy="91.7" r="1.15" stroke-width="1.1"/>
<circle cx="759.8" cy="98.7" r="1.15" stroke-width="1.1"/>
<circle cx="764.7" cy="96.1" r="1.15" stroke-width="1.1"/>
<circle cx="776.5" cy="99.3" r="1.15" stroke-width="1.1"/>
<circle cx="784.4" cy="99.3" r="1.15" stroke-width="1.1"/>
<circle cx="798.2" cy="98.4" r="1.15" stroke-width="1.1"/>
<circle cx="839" cy="98.4" r="1.15" stroke-width="1.1"/>
<circle cx="773.8" cy="107.4" r="1.15" stroke-width="1.1"/>
<circle cx="785.8" cy="107.8" r="1.15" stroke-width="1.1"/>
<circle cx="808.7" cy="110.2" r="1.15" stroke-width="1.1"/>
<circle cx="826.3" cy="107.8" r="1.15" stroke-width="1.1"/>
<circle cx="755.1" cy="114.2" r="1.15" stroke-width="1.1"/>
<circle cx="762.1" cy="118.7" r="1.15" stroke-width="1.1"/>
<circle cx="754" cy="120.1" r="1.15" stroke-width="1.1"/>
<circle cx="807.3" cy="116.1" r="1.15" stroke-width="1.1"/>
<circle cx="815.6" cy="114.5" r="1.15" stroke-width="1.1"/>
<circle cx="785.2" cy="121.1" r="1.15" stroke-width="1.1"/>
<circle cx="799.8" cy="123.2" r="1.15" stroke-width="1.1"/>
<circle cx="814.3" cy="120.5" r="1.15" stroke-width="1.1"/>
<circle cx="826" cy="121.1" r="1.15" stroke-width="1.1"/>
<circle cx="762.1" cy="127.6" r="1.15" stroke-width="1.1"/>
<circle cx="773.7" cy="128.1" r="1.15" stroke-width="1.1"/>
<circle cx="784.6" cy="127.8" r="1.15" stroke-width="1.1"/>
<circle cx="825.4" cy="127.8" r="1.15" stroke-width="1.1"/>
<circle cx="747.3" cy="129.8" r="1.15" stroke-width="1.1"/>
</g>
<line x1="660.00" y1="136.50" x2="840.00" y2="136.50" stroke="#111" stroke-width="1" />
<rect x="660.00" y="136.50" width="44.50" height="176.00" fill="#fac896"/>
<line x1="704.50" y1="136.50" x2="704.50" y2="312.50" stroke="#111" stroke-width="1" />
<rect x="711.00" y="137.00" width="6.00" height="175.50" fill="#dcdcdc"/>
<rect x="747.50" y="137.00" width="5.00" height="175.50" fill="#dcdcdc"/>
<line x1="711.00" y1="136.80" x2="711.00" y2="312.50" stroke="#111" stroke-width="1" />
<clipPath id="c8"><rect x="717" y="138.5" width="30.5" height="174.0"/></clipPath>
<rect x="717.00" y="138.50" width="30.50" height="174.00" fill="#ffe92e"/>
<g clip-path="url(#c8)">
<path d="M723.34,112.54A5.0,5.0 0 1 0 723.34,122.18M723.34,112.54L743.84,118.23M723.34,122.18L743.84,116.49M743.84,118.23A5.0,5.0 0 0 1 743.84,127.87M723.34,123.92A5.0,5.0 0 1 0 723.34,133.56M723.34,123.92L743.84,129.61M723.34,133.56L743.84,127.87M743.84,129.61A5.0,5.0 0 0 1 743.84,139.25M723.34,135.30A5.0,5.0 0 1 0 723.34,144.94M723.34,135.30L743.84,140.99M723.34,144.94L743.84,139.25M743.84,140.99A5.0,5.0 0 0 1 743.84,150.63M723.34,146.68A5.0,5.0 0 1 0 723.34,156.32M723.34,146.68L743.84,152.37M723.34,156.32L743.84,150.63M743.84,152.37A5.0,5.0 0 0 1 743.84,162.01M723.34,158.06A5.0,5.0 0 1 0 723.34,167.70M723.34,158.06L743.84,163.75M723.34,167.70L743.84,162.01M743.84,163.75A5.0,5.0 0 0 1 743.84,173.39M723.34,169.44A5.0,5.0 0 1 0 723.34,179.08M723.34,169.44L743.84,175.13M723.34,179.08L743.84,173.39M743.84,175.13A5.0,5.0 0 0 1 743.84,184.77M723.34,180.82A5.0,5.0 0 1 0 723.34,190.46M723.34,180.82L743.84,186.51M723.34,190.46L743.84,184.77M743.84,186.51A5.0,5.0 0 0 1 743.84,196.15M723.34,192.20A5.0,5.0 0 1 0 723.34,201.84M723.34,192.20L743.84,197.89M723.34,201.84L743.84,196.15M743.84,197.89A5.0,5.0 0 0 1 743.84,207.53M723.34,203.58A5.0,5.0 0 1 0 723.34,213.22M723.34,203.58L743.84,209.27M723.34,213.22L743.84,207.53M743.84,209.27A5.0,5.0 0 0 1 743.84,218.91M723.34,214.96A5.0,5.0 0 1 0 723.34,224.60M723.34,214.96L743.84,220.65M723.34,224.60L743.84,218.91M743.84,220.65A5.0,5.0 0 0 1 743.84,230.29M723.34,226.34A5.0,5.0 0 1 0 723.34,235.98M723.34,226.34L743.84,232.03M723.34,235.98L743.84,230.29M743.84,232.03A5.0,5.0 0 0 1 743.84,241.67M723.34,237.72A5.0,5.0 0 1 0 723.34,247.36M723.34,237.72L743.84,243.41M723.34,247.36L743.84,241.67M743.84,243.41A5.0,5.0 0 0 1 743.84,253.05M723.34,249.10A5.0,5.0 0 1 0 723.34,258.74M723.34,249.10L743.84,254.79M723.34,258.74L743.84,253.05M743.84,254.79A5.0,5.0 0 0 1 743.84,264.43M723.34,260.48A5.0,5.0 0 1 0 723.34,270.12M723.34,260.48L743.84,266.17M723.34,270.12L743.84,264.43M743.84,266.17A5.0,5.0 0 0 1 743.84,275.81M723.34,271.86A5.0,5.0 0 1 0 723.34,281.50M723.34,271.86L743.84,277.55M723.34,281.50L743.84,275.81M743.84,277.55A5.0,5.0 0 0 1 743.84,287.19M723.34,283.24A5.0,5.0 0 1 0 723.34,292.88M723.34,283.24L743.84,288.93M723.34,292.88L743.84,287.19M743.84,288.93A5.0,5.0 0 0 1 743.84,298.57M723.34,294.62A5.0,5.0 0 1 0 723.34,304.26M723.34,294.62L743.84,300.31M723.34,304.26L743.84,298.57M743.84,300.31A5.0,5.0 0 0 1 743.84,309.95M723.34,306.00A5.0,5.0 0 1 0 723.34,315.64M723.34,306.00L743.84,311.69M723.34,315.64L743.84,309.95M743.84,311.69A5.0,5.0 0 0 1 743.84,321.33M723.34,317.38A5.0,5.0 0 1 0 723.34,327.02M723.34,317.38L743.84,323.07M723.34,327.02L743.84,321.33M743.84,323.07A5.0,5.0 0 0 1 743.84,332.71" stroke="#111" stroke-width="1.4" fill="none" />
</g>
<path d="M717,312.5V138.5H747.5V312.5" stroke="#111" stroke-width="1.1" fill="none" />
<rect x="752.50" y="141.50" width="13.00" height="171.00" fill="#e6f0e1"/>
<line x1="752.70" y1="137.00" x2="752.70" y2="312.50" stroke="#111" stroke-width="1" />
<line x1="759.00" y1="141.50" x2="759.00" y2="312.50" stroke="#111" stroke-width="1" />
<line x1="765.50" y1="141.50" x2="765.50" y2="312.50" stroke="#333" stroke-width="1.3" />
<line x1="752.50" y1="141.50" x2="765.50" y2="141.50" stroke="#111" stroke-width="1" />
<clipPath id="c9"><rect x="769.5" y="141.5" width="70.5" height="26.0"/></clipPath>
<rect x="769.50" y="141.50" width="70.50" height="26.00" fill="#ffe92e"/>
<g clip-path="url(#c9)">
<path d="M750.08,148.37A4.75,4.75 0 1 1 759.12,148.37M750.08,148.37L755.03,163.57M759.12,148.37L754.17,163.57M755.03,163.57A4.75,4.75 0 0 0 764.07,163.57M759.98,148.37A4.75,4.75 0 1 1 769.02,148.37M759.98,148.37L764.93,163.57M769.02,148.37L764.07,163.57M764.93,163.57A4.75,4.75 0 0 0 773.97,163.57M769.88,148.37A4.75,4.75 0 1 1 778.92,148.37M769.88,148.37L774.83,163.57M778.92,148.37L773.97,163.57M774.83,163.57A4.75,4.75 0 0 0 783.87,163.57M779.78,148.37A4.75,4.75 0 1 1 788.82,148.37M779.78,148.37L784.73,163.57M788.82,148.37L783.87,163.57M784.73,163.57A4.75,4.75 0 0 0 793.77,163.57M789.68,148.37A4.75,4.75 0 1 1 798.72,148.37M789.68,148.37L794.63,163.57M798.72,148.37L793.77,163.57M794.63,163.57A4.75,4.75 0 0 0 803.67,163.57M799.58,148.37A4.75,4.75 0 1 1 808.62,148.37M799.58,148.37L804.53,163.57M808.62,148.37L803.67,163.57M804.53,163.57A4.75,4.75 0 0 0 813.57,163.57M809.48,148.37A4.75,4.75 0 1 1 818.52,148.37M809.48,148.37L814.43,163.57M818.52,148.37L813.57,163.57M814.43,163.57A4.75,4.75 0 0 0 823.47,163.57M819.38,148.37A4.75,4.75 0 1 1 828.42,148.37M819.38,148.37L824.33,163.57M828.42,148.37L823.47,163.57M824.33,163.57A4.75,4.75 0 0 0 833.37,163.57M829.28,148.37A4.75,4.75 0 1 1 838.32,148.37M829.28,148.37L834.23,163.57M838.32,148.37L833.37,163.57M834.23,163.57A4.75,4.75 0 0 0 843.27,163.57M839.18,148.37A4.75,4.75 0 1 1 848.22,148.37M839.18,148.37L844.13,163.57M848.22,148.37L843.27,163.57M844.13,163.57A4.75,4.75 0 0 0 853.17,163.57" stroke="#111" stroke-width="1.4" fill="none" />
</g>
<path d="M840,141.5H769.5V167.5H840" stroke="#111" stroke-width="1.1" fill="none" />
<rect x="769.50" y="168.00" width="70.50" height="20.50" fill="#dcdcdc"/>
<rect x="769.50" y="188.50" width="70.50" height="12.00" fill="#e6f0e1"/>
<line x1="769.50" y1="168.00" x2="769.50" y2="200.50" stroke="#111" stroke-width="1" />
<line x1="769.50" y1="188.50" x2="840.00" y2="188.50" stroke="#111" stroke-width="1" />
<line x1="769.50" y1="194.50" x2="840.00" y2="194.50" stroke="#111" stroke-width="1" />
<line x1="769.50" y1="200.30" x2="840.00" y2="200.30" stroke="#111" stroke-width="1" />
<rect x="765.50" y="194.50" width="4.00" height="6.00" fill="#111"/>
<path d="M711.2,165V137.6H752.4V165" stroke="#861313" stroke-width="1.7" fill="none" />
<path d="M799.4,168.8H765.7V188.3H788.5" stroke="#861313" stroke-width="1.7" fill="none" />
<line x1="732.00" y1="119.00" x2="732.00" y2="138.00" stroke="#444" stroke-width="1" />
<line x1="750.20" y1="178.20" x2="765.60" y2="178.20" stroke="#333" stroke-width="1.1" />
<line x1="800.50" y1="179.50" x2="800.50" y2="200.30" stroke="#222" stroke-width="1" />
<path d="M798.90,200.30L802.10,200.30L800.50,198.30Z" stroke="#222" stroke-width="0.5" fill="#222" />
<line x1="806.50" y1="179.00" x2="806.50" y2="194.50" stroke="#222" stroke-width="1" />
<path d="M804.90,194.50L808.10,194.50L806.50,192.50Z" stroke="#222" stroke-width="0.5" fill="#222" />
<line x1="747.50" y1="233.90" x2="765.50" y2="233.90" stroke="#333" stroke-width="1.1" />
<path d="M765.80,231.70L765.80,236.10L762.90,233.90Z" stroke="#111" stroke-width="0.6" fill="#111" />
<line x1="747.50" y1="238.70" x2="759.00" y2="238.70" stroke="#333" stroke-width="1.1" />
<path d="M759.30,236.50L759.30,240.90L756.40,238.70Z" stroke="#111" stroke-width="0.6" fill="#111" />
<line x1="660.00" y1="88.50" x2="840.00" y2="88.50" stroke="#1e1e1e" stroke-width="1.2" stroke-dasharray="10.5 2 1.6 2"/>
<line x1="660.70" y1="313.00" x2="660.70" y2="88.00" stroke="#1e1e1e" stroke-width="1.2" stroke-dasharray="10.5 2 1.6 2"/>
<line x1="840.00" y1="88.00" x2="840.00" y2="222.00" stroke="#1e1e1e" stroke-width="1.2" stroke-dasharray="10.5 2 1.6 2"/>
<line x1="660.20" y1="313.00" x2="800.70" y2="313.00" stroke="#1e1e1e" stroke-width="1.2" stroke-dasharray="10.5 2 1.6 2"/>
<rect x="68" y="48" width="2" height="1" fill="#888"/>
<circle cx="789.2" cy="48.3" r="0.8" fill="#777"/>
</svg>
<svg width="887" height="411" style="position:absolute;left:0;top:0">
<circle cx="67.5" cy="356" r="16.5" fill="#f0921e"/>
<path d="M65.8,349.1H69V362.8H65.8V353.5Q64.4,354.7 62.2,355.2V352.8Q64.8,351.6 65.8,349.1Z" fill="#fff"/>
</svg>
<div class="lbl" style="left:50.2px;top:48.2px">a</div>
<div class="lbl" style="left:326.4px;top:47.2px">b</div>
<div class="lbl" style="left:603px;top:49.2px">c</div>
<div class="cap">L’approche simultanée (a) et l’approche phasée (b, c) apportent une amélioration acoustique similaire.</div>
</body></html>
